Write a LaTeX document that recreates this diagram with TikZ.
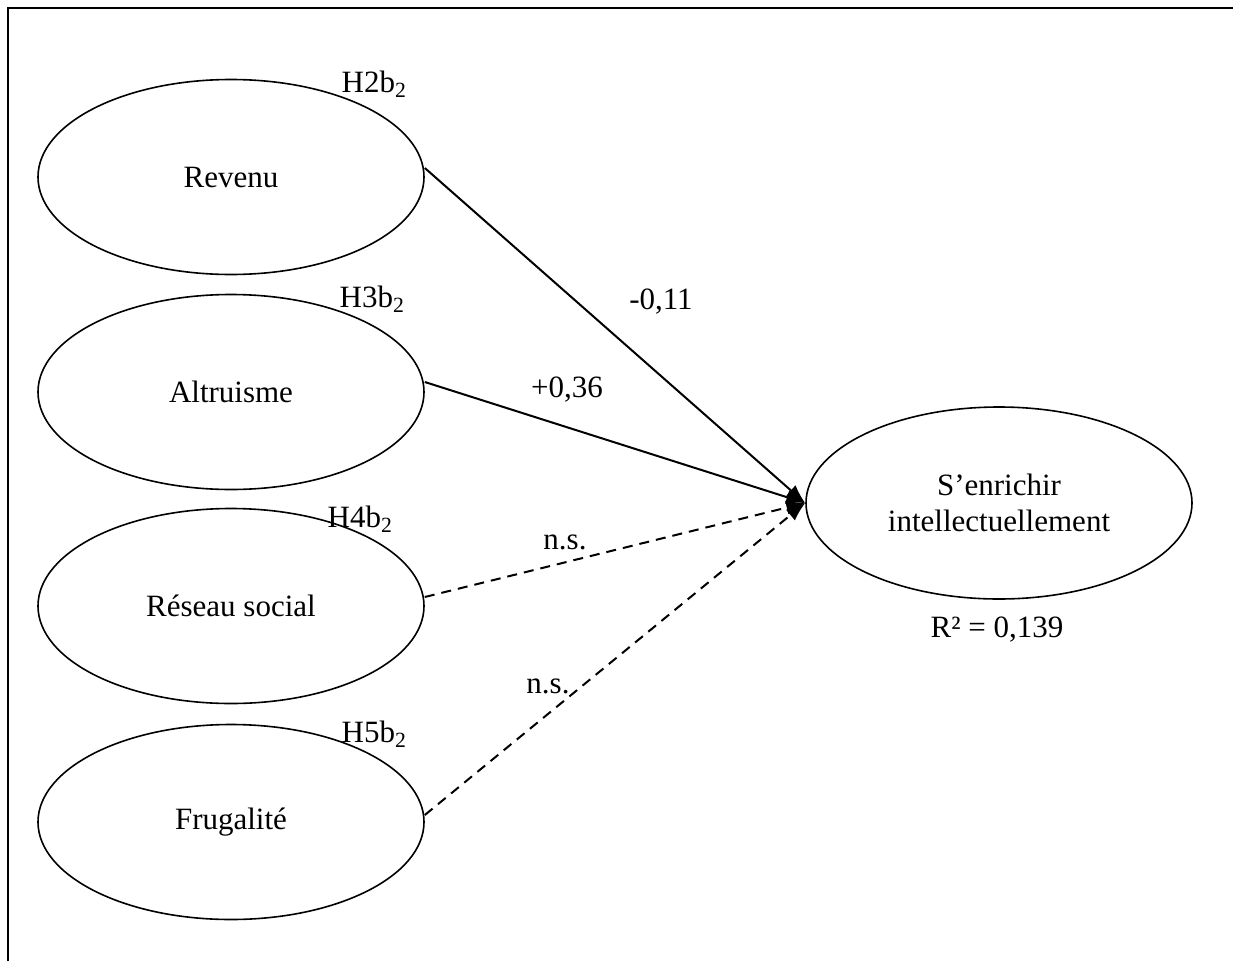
\documentclass[tikz,border=0pt]{standalone}
\usepackage{fontspec}
\setmainfont{Liberation Serif}
\usetikzlibrary{shapes.geometric,arrows.meta}
\begin{document}
\begin{tikzpicture}[x=1pt,y=-1pt,
  ell/.style={ellipse,draw,line width=1.6pt,minimum width=386pt,minimum height=195pt,inner sep=0pt,align=center,font=\fontsize{31}{36}\selectfont},
  lbl/.style={anchor=base,inner sep=0pt,font=\fontsize{31}{36}\selectfont},
  path/.style={line width=2pt,-{Latex[length=19pt,width=14pt]}},
  nspath/.style={path,dash pattern=on 10pt off 7pt}]
\useasboundingbox (0,0) rectangle (1233,961);
\draw[line width=2pt] (8,961) -- (8,8) -- (1233,8);
\node[ell] (rev) at (231,177) {Revenu};
\node[ell] (alt) at (231,392) {Altruisme};
\node[ell] (res) at (231,606) {Réseau social};
\node[ell] (fru) at (231,822) {Frugalité};
\node[ell,minimum width=386pt,minimum height=192pt] (enr) at (999,503) {S’enrichir\\intellectuellement};
\node[lbl] (h2) at (374,92) {H2b\textsubscript{2}};
\node[lbl] (h3) at (372,307) {H3b\textsubscript{2}};
\node[lbl] (h4) at (360,527) {H4b\textsubscript{2}};
\node[lbl] (h5) at (374,742) {H5b\textsubscript{2}};
\node[lbl] (c1) at (661,309) {-0,11};
\node[lbl] (c2) at (567,397) {+0,36};
\node[lbl] (c3) at (565,549) {n.s.};
\node[lbl] (c4) at (548,693) {n.s.};
\node[lbl] (r2) at (997,637) {R² = 0,139};
\draw[path] ([yshift=9pt]rev.east) -- (enr.west);
\draw[path] ([yshift=10pt]alt.east) -- (enr.west);
\draw[nspath] ([yshift=9pt]res.east) -- (enr.west);
\draw[nspath] ([yshift=7pt]fru.east) -- (enr.west);
\end{tikzpicture}
\end{document}
